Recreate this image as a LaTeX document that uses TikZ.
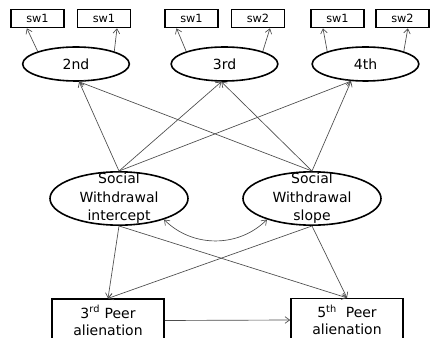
\documentclass[tikz,border=0pt]{standalone}
\usepackage{fontspec}
\setmainfont{DejaVu Sans}
\usetikzlibrary{shapes.geometric,arrows.meta}
\begin{document}
\begin{tikzpicture}[x=0.75pt,y=-0.75pt,
  sw/.style={draw,line width=1.2pt,minimum width=39.75pt,minimum height=13.5pt,inner sep=0pt,font=\fontsize{8.5}{9}\selectfont},
  wave/.style={draw,ellipse,line width=1.2pt,minimum width=80pt,minimum height=25.5pt,inner sep=0pt,font=\fontsize{10.5}{13}\selectfont},
  growth/.style={draw,ellipse,line width=1.2pt,minimum width=103.5pt,minimum height=40pt,inner sep=0pt},
  gtext/.style={align=center,font=\fontsize{10.5}{13.9}\selectfont},
  peer/.style={draw,line width=1.2pt,minimum width=84pt,minimum height=32pt,inner sep=0pt,align=center,font=\fontsize{10.5}{12.75}\selectfont},
  link/.style={-{Straight Barb[length=3.5pt,width=5pt]},black!70,line width=0.5pt}]
\useasboundingbox (0,0) rectangle (432,338);
\clip (0,0) rectangle (432,338);
% indicators
\node[sw] (a1) at (37.5,18.5) {sw1};
\node[sw] (a2) at (104,18.5) {sw1};
\node[sw] (b1) at (191.5,18.5) {sw1};
\node[sw] (b2) at (258,18.5) {sw2};
\node[sw] (c1) at (337.5,18.5) {sw1};
\node[sw] (c2) at (402.5,18.5) {sw2};
% waves
\node[wave] (w2) at (76,64) {2nd};
\node[wave] (w3) at (224.5,64) {3rd};
\node[wave] (w4) at (365.5,64) {4th};
\draw[link] (w2.north west) -- ([xshift=-8pt]a1.south);
\draw[link] (w2.north east) -- ([xshift=9.75pt]a2.south);
\draw[link] (w3.north west) -- ([xshift=-11.25pt]b1.south);
\draw[link] (w3.north east) -- ([xshift=9pt]b2.south);
\draw[link] (w4.north west) -- ([xshift=-10.9pt]c1.south);
\draw[link] (w4.north east) -- ([xshift=4pt]c2.south);
% growth factors
\node[growth,label={[gtext]center:Social\\Withdrawal\\intercept}] (icpt) at (119,198.5) {};
\node[growth,label={[gtext]center:Social\\Withdrawal\\slope}] (slp) at (312,198.5) {};
\foreach \f in {icpt,slp}{
  \draw[link] (\f.north) -- (w2.-80);
  \draw[link] (\f.north) -- (w3.-100);
  \draw[link] (\f.north) -- (w4.-130);
}
\draw[link,{Straight Barb[length=3.5pt,width=5pt]}-{Straight Barb[length=3.5pt,width=5pt]}] (icpt.-25) to[bend right=45] (slp.-155);
% outcomes
\node[peer] (p3) at (108,320.5) {3\textsuperscript{rd} Peer\\alienation};
\node[peer] (p5) at (347,320) {5\textsuperscript{th}\ \ Peer\\alienation};
\foreach \f in {icpt,slp}{
  \draw[link] (\f.south) -- (p3.north);
  \draw[link] (\f.south) -- (p5.north);
}
\draw[link] (p3.east) -- (p5.west);
\end{tikzpicture}
\end{document}
